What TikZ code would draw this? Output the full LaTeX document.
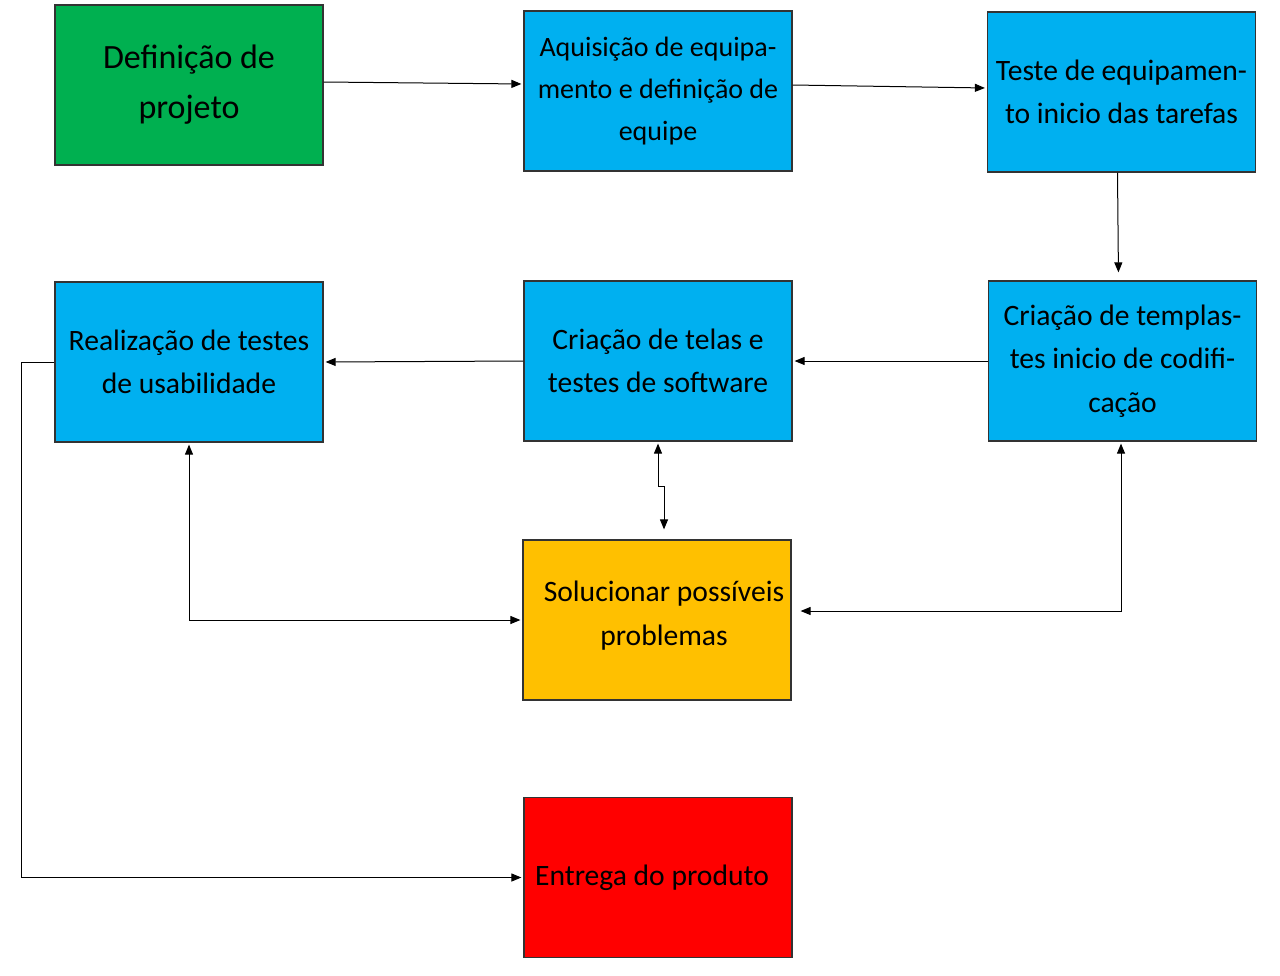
\documentclass[tikz,border=0pt]{standalone}
\usepackage{fontspec}
\setmainfont{Carlito}
\usetikzlibrary{arrows.meta}
\definecolor{boxgreen}{HTML}{00B050}
\definecolor{boxblue}{HTML}{00B0F0}
\definecolor{boxorange}{HTML}{FFC000}
\definecolor{boxred}{HTML}{FF0000}
\tikzset{
  etapa/.style={draw=black!80, line width=0.6pt, minimum width=134pt, minimum height=80pt,
    inner sep=0pt, align=center, font=\fontsize{14.8}{21.8}\selectfont},
  seta/.style={line width=0.5pt, -{Triangle[length=5pt,width=4pt]}},
  setas/.style={line width=0.5pt, {Triangle[length=5pt,width=4pt]}-{Triangle[length=5pt,width=4pt]}}
}
\begin{document}
\begin{tikzpicture}[x=0.5pt,y=-0.5pt]
\useasboundingbox (0,0) rectangle (1280,975);
% etapas
\node[etapa, fill=boxgreen, font=\fontsize{17}{25}\selectfont] (def) at (189,85) {Definição de\\projeto};
\node[etapa, fill=boxblue, font=\fontsize{14}{21}\selectfont] (aquis) at (658,91) {Aquisição de equipa-\\mento e definição de\\equipe};
\node[etapa, fill=boxblue] (teste) at (1121.5,92) {Teste de equipamen-\\to inicio das tarefas};
\node[etapa, fill=boxblue] (templ) at (1122.5,361) {Criação de templas-\\tes inicio de codifi-\\cação};
\node[etapa, fill=boxblue] (telas) at (658,361) {Criação de telas e\\testes de software};
\node[etapa, fill=boxblue] (usab) at (189,362) {Realização de testes\\de usabilidade};
\node[etapa, fill=boxorange] (solu) at (657,620) {\hspace*{7pt}Solucionar possíveis\\\hspace*{7pt}problemas\\[-15pt]};
\node[etapa, fill=boxred] (entrega) at (658,877.5) {\hspace*{-6pt}Entrega do produto};
% ligacoes
\draw[seta, shorten >=1pt] ([yshift=1.5pt]def.east) -- ([yshift=3.5pt]aquis.west);
\draw[seta, shorten >=1pt] ([yshift=3pt]aquis.east) -- ([yshift=2pt]teste.west);
\draw[seta, shorten >=4pt] ([xshift=-2pt]teste.south) -- ([xshift=-2pt]templ.north);
\draw[seta, shorten >=1pt] (templ.west) -- (telas.east);
\draw[seta, shorten >=1pt] (telas.west) -- (usab.east);
\draw[setas, shorten <=1pt, shorten >=5pt] (telas.south) -- ++(0,45) -| ([xshift=3.5pt]solu.north);
\draw[setas, shorten <=1pt, shorten >=1pt] (usab.south) |- (solu.west);
\draw[setas, shorten <=1pt, shorten >=4.5pt] ([xshift=-0.75pt]templ.south) |- ([yshift=4.5pt]solu.east);
\draw[seta, shorten >=1pt] (usab.west) -- ++(-33,0) |- (entrega.west);
\end{tikzpicture}
\end{document}
